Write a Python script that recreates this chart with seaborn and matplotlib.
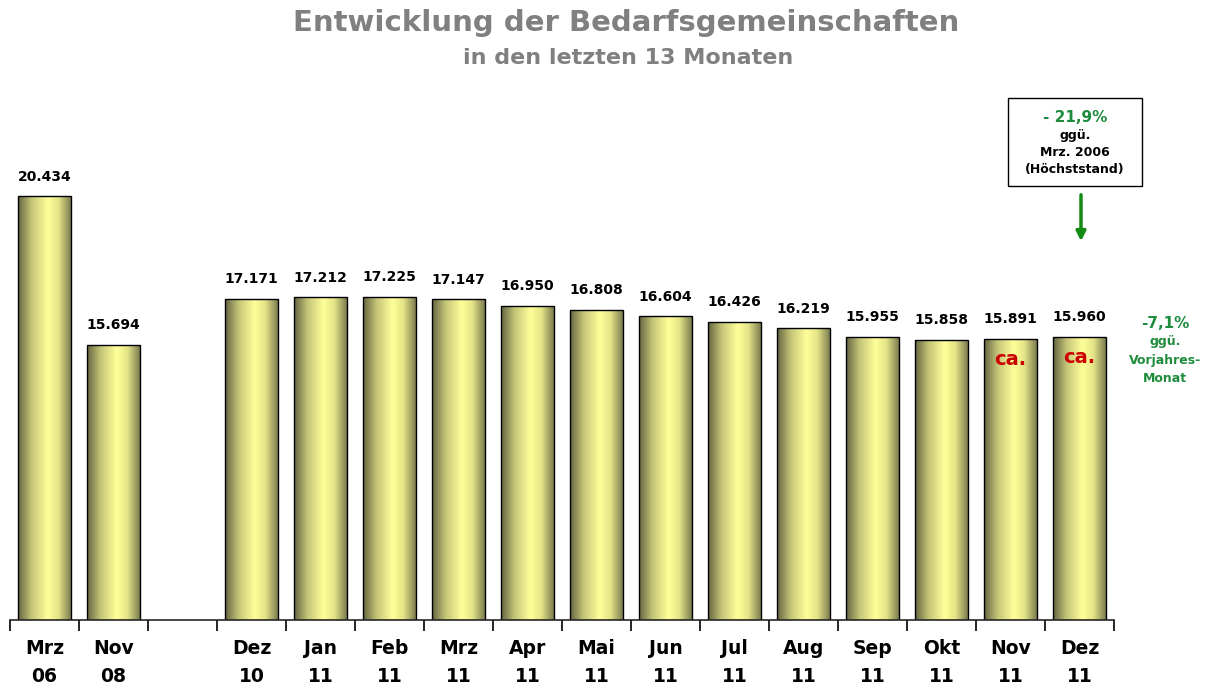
import numpy as np
import pandas as pd
import matplotlib
matplotlib.use('Agg')
import matplotlib.pyplot as plt
import seaborn as sns
from matplotlib.colors import LinearSegmentedColormap

months = ['Mrz\n06', 'Nov\n08', '', 'Dez\n10', 'Jan\n11', 'Feb\n11', 'Mrz\n11', 'Apr\n11',
          'Mai\n11', 'Jun\n11', 'Jul\n11', 'Aug\n11', 'Sep\n11', 'Okt\n11', 'Nov\n11', 'Dez\n11']
values = [20434, 15694, np.nan, 17171, 17212, 17225, 17147, 16950,
          16808, 16604, 16426, 16219, 15955, 15858, 15891, 15960]
estimated = ['Nov\n11', 'Dez\n11']

df = pd.DataFrame({'month': months, 'value': values})

sns.set_style('white')
plt.rcParams['font.family'] = ['DejaVu Sans']
plt.rcParams['text.color'] = 'black'
plt.rcParams['xtick.color'] = 'black'

YMIN, YMAX = 6944, 23489

fig = plt.figure(figsize=(12.13, 6.85), dpi=100)
ax = fig.add_axes([10 / 1213, 65 / 685, 1104 / 1213, 520 / 685])

sns.barplot(data=df, x='month', y='value', order=months, color='#ffff99',
            width=0.78, edgecolor='black', linewidth=1.0, ax=ax)

# horizontal gradient on each bar
grad = LinearSegmentedColormap.from_list(
    'cyl', [(0, '#646440'), (0.25, '#c4c478'), (0.55, '#ffff99'), (0.75, '#e4e488'), (1, '#74744c')])
gimg = np.linspace(0, 1, 256).reshape(1, -1)
for p in list(ax.patches):
    h = p.get_height()
    if np.isnan(h) or h == 0:
        continue
    x0 = p.get_x()
    w = p.get_width()
    im = ax.imshow(gimg, cmap=grad, aspect='auto', extent=(x0, x0 + w, YMIN, h), zorder=p.get_zorder())
    im.set_clip_path(p)
    p.set_facecolor('none')
    p.set_zorder(p.get_zorder() + 0.5)

ax.set_xlim(-0.5, len(months) - 0.5)
ax.set_ylim(YMIN, YMAX)

for i, (m, v) in enumerate(zip(months, values)):
    if np.isnan(v):
        continue
    lab = f'{v / 1000:.3f}'
    ax.annotate(lab, (i, v), xytext=(0, 9), textcoords='offset points',
                ha='center', va='bottom', fontsize=10, fontweight='bold')
    if m in estimated:
        ax.text(i, v - 650, 'ca.', ha='center', va='center', color='#cc0000',
                fontsize=14, fontweight='bold')

for s in ['top', 'right', 'left']:
    ax.spines[s].set_visible(False)
ax.spines['bottom'].set_linewidth(1.2)
ax.set_yticks([])
ax.set_ylabel('')
ax.set_xlabel('')
ax.set_xticks(np.arange(len(months) + 1) - 0.5)
ax.set_xticklabels([])
ax.set_xticks(np.arange(len(months)), minor=True)
ax.set_xticklabels(months, minor=True, fontsize=13.5, fontweight='bold', linespacing=1.55)
ax.tick_params(axis='x', which='major', direction='out', length=8, width=1.2, bottom=True)
ax.tick_params(axis='x', which='minor', length=0, pad=14, bottom=True)

fig.text(626 / 1213, 0.967, 'Entwicklung der Bedarfsgemeinschaften', ha='center', va='center',
         color='#808080', fontsize=21, fontweight='bold')
fig.text(628 / 1213, 0.916, 'in den letzten 13 Monaten', ha='center', va='center',
         color='#808080', fontsize=16, fontweight='bold')

# annotation box
green = '#1e8c3c'
bx = 1075 / 1213
fig.patches.append(plt.Rectangle((1008 / 1213, 1 - 186 / 685), 134 / 1213, 88 / 685,
                                 transform=fig.transFigure, fill=False, edgecolor='black', linewidth=1.0))
fig.text(bx, 1 - 117 / 685, '- 21,9%', ha='center', va='center', color=green, fontsize=11, fontweight='bold')
fig.text(bx, 1 - 136 / 685, 'ggü.', ha='center', va='center', fontsize=9, fontweight='bold')
fig.text(bx, 1 - 153 / 685, 'Mrz. 2006', ha='center', va='center', fontsize=9, fontweight='bold')
fig.text(bx, 1 - 170 / 685, '(Höchststand)', ha='center', va='center', fontsize=9, fontweight='bold')
fig.add_artist(matplotlib.patches.FancyArrowPatch((1081 / 1213, 1 - 192 / 685), (1081 / 1213, 1 - 244 / 685),
                                                  transform=fig.transFigure, arrowstyle='-|>',
                                                  mutation_scale=14, color='#138a13', linewidth=2.5))

rx = 1165 / 1213
fig.text(rx, 1 - 323 / 685, '-7,1%', ha='center', va='center', color=green, fontsize=11, fontweight='bold')
fig.text(rx, 1 - 342 / 685, 'ggü.', ha='center', va='center', color=green, fontsize=9, fontweight='bold')
fig.text(rx, 1 - 361 / 685, 'Vorjahres-', ha='center', va='center', color=green, fontsize=9, fontweight='bold')
fig.text(rx, 1 - 378 / 685, 'Monat', ha='center', va='center', color=green, fontsize=9, fontweight='bold')

fig.savefig('out.png', dpi=100)
